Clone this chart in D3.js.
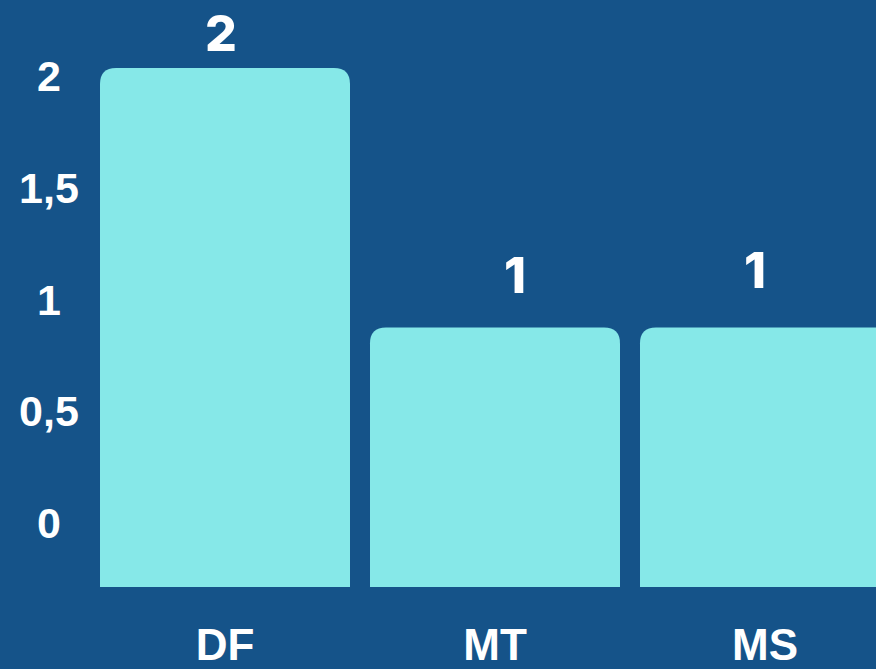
<!DOCTYPE html>
<html>
<head>
<meta charset="utf-8">
<script src="https://cdn.jsdelivr.net/npm/d3@7"></script>
<style>
html, body { margin: 0; padding: 0; background: #155389; overflow: hidden; }
</style>
</head>
<body>
<div id="chart"></div>
<script>
const categories = ['DF', 'MT', 'MS'];
const values = [2, 1, 1];
const tickValues = [0, 0.5, 1, 1.5, 2];
const tickLabels = ['0', '0,5', '1', '1,5', '2'];

const width = 876, height = 669;

const svg = d3.select('#chart')
  .append('svg')
  .attr('width', width)
  .attr('height', height);

svg.append('rect')
  .attr('width', width)
  .attr('height', height)
  .attr('fill', '#155389');

// bandas de las barras (paso 270, hueco 20)
const gap = 20 / 270;
const x = d3.scaleBand()
  .domain(categories)
  .range([90, 900])
  .paddingInner(gap)
  .paddingOuter(gap / 2);

// escala de las barras
const y = d3.scaleLinear().domain([0, 2]).range([587, 68]);

// escala de las etiquetas del eje (no coincide con las barras en el original)
const yAxis = d3.scaleLinear().domain([0, 2]).range([538, 91]);

const r = 16;
function barPath(x0, y0, w, h) {
  return `M${x0},${y0 + h} L${x0},${y0 + r} Q${x0},${y0} ${x0 + r},${y0} ` +
    `L${x0 + w - r},${y0} Q${x0 + w},${y0} ${x0 + w},${y0 + r} L${x0 + w},${y0 + h} Z`;
}

svg.selectAll('path.bar')
  .data(values)
  .join('path')
  .attr('class', 'bar')
  .attr('d', (d, i) => barPath(x(categories[i]), y(d), x.bandwidth(), y(0) - y(d)))
  .attr('fill', '#86e8e8');

// etiquetas del eje y
svg.selectAll('text.tick')
  .data(tickValues)
  .join('text')
  .attr('class', 'tick')
  .attr('x', 49)
  .attr('y', d => yAxis(d))
  .attr('text-anchor', 'middle')
  .attr('font-family', 'Liberation Sans, Arial, sans-serif')
  .attr('font-weight', 'bold')
  .attr('font-size', 43)
  .attr('fill', '#ffffff')
  .text((d, i) => tickLabels[i]);

// etiquetas de categorías
svg.selectAll('text.cat')
  .data(categories)
  .join('text')
  .attr('class', 'cat')
  .attr('x', d => x(d) + x.bandwidth() / 2)
  .attr('y', 660)
  .attr('text-anchor', 'middle')
  .attr('font-family', 'Liberation Sans, Arial, sans-serif')
  .attr('font-weight', 'bold')
  .attr('font-size', 44)
  .attr('fill', '#ffffff')
  .text(d => d);

// valores encima de las barras
const labelShift = [-4, 20, -10];
const labelLift = [17, 35, 40];
svg.selectAll('text.val')
  .data(values)
  .join('text')
  .attr('class', 'val')
  .attr('x', (d, i) => x(categories[i]) + x.bandwidth() / 2 + labelShift[i])
  .attr('y', (d, i) => y(d) - labelLift[i])
  .attr('text-anchor', 'middle')
  .attr('font-family', 'Inter, Open Sans, sans-serif')
  .attr('font-weight', 800)
  .attr('font-size', 50)
  .attr('fill', '#ffffff')
  .text(d => d);
</script>
</body>
</html>
